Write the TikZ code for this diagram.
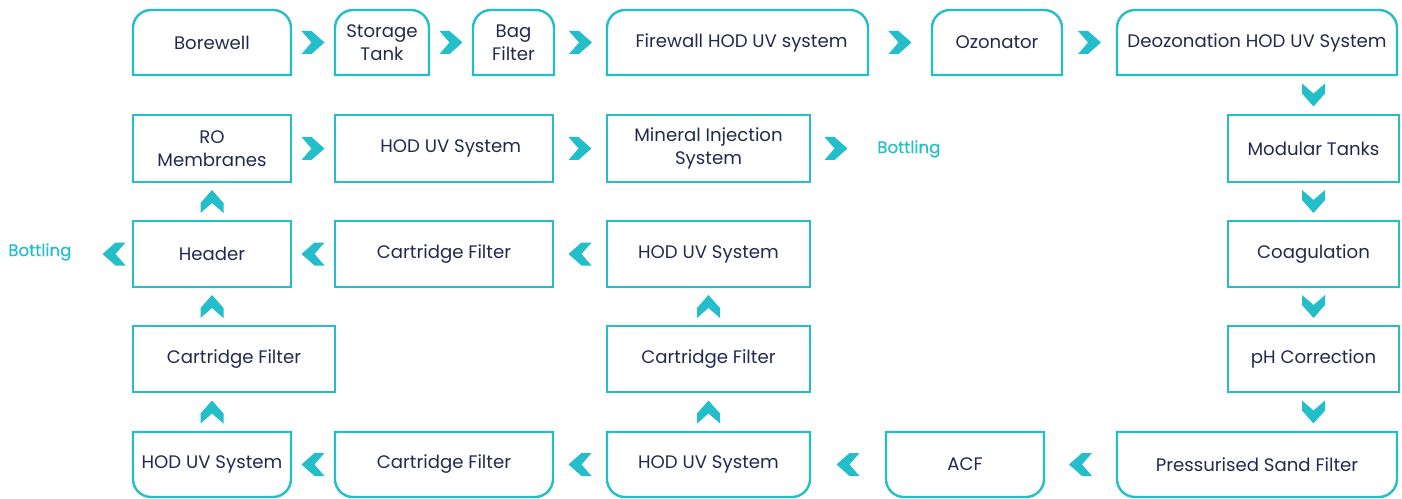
\documentclass[tikz,border=0pt]{standalone}
\usepackage{fontspec}
\setmainfont{Poppins}
\newfontfamily\btfont{Poppins}[FakeBold=0.6]
\usetikzlibrary{calc}
\definecolor{tealc}{RGB}{36,190,202}
\definecolor{navy}{RGB}{33,42,78}
\newlength\rr
\setlength\rr{13.5pt}
\tikzset{
  box/.style={inner sep=0pt, outer sep=0pt, align=center, text=navy,
    font=\fontsize{13.6}{17.5}\selectfont},
  frame/.style={draw=tealc, line width=1.8pt},
  chev/.pic={\fill[tealc] (-11.5,11.5)--(-1.5,11.5)--(11.5,0)--(-1.5,-11.5)--(-11.5,-11.5)--(-1.5,0)--cycle;},
  bottling/.style={text=tealc, font=\btfont\fontsize{12.5}{15}\selectfont, inner sep=0pt},
}
\newcommand\topframe[1]{%
  \draw[frame] (#1.south west) -- ([yshift=-\rr]#1.north west)
    arc[start angle=180,end angle=90,radius=\rr] -- ([xshift=-\rr]#1.north east)
    arc[start angle=90,end angle=0,radius=\rr] -- (#1.south east) -- cycle;}
\newcommand\botframe[1]{%
  \draw[frame] (#1.north west) -- ([yshift=\rr]#1.south west)
    arc[start angle=180,end angle=270,radius=\rr] -- ([xshift=-\rr]#1.south east)
    arc[start angle=270,end angle=360,radius=\rr] -- (#1.north east) -- cycle;}
\newcommand\sqframe[1]{\draw[frame] (#1.south west) rectangle (#1.north east);}
\begin{document}
\begin{tikzpicture}[x=0.75pt,y=0.75pt]
\useasboundingbox (0,0) rectangle (1402,-499);
% row 1
\node[box, minimum width=118.5pt, minimum height=48.75pt] (bw) at (212,-42.5) {Borewell};
\node[box, minimum width=70.5pt, minimum height=48.75pt] (st) at (382,-42.5) {Storage\\Tank};
\node[box, minimum width=60.75pt, minimum height=48.75pt] (bf) at (513.5,-42.5) {Bag\\Filter};
\node[box, minimum width=195.75pt, minimum height=48.75pt] (fw) at (737.5,-42.5) {\hspace*{6pt}Firewall HOD UV system};
\node[box, minimum width=97.5pt, minimum height=48.75pt] (oz) at (997,-42.5) {Ozonator};
\node[box, minimum width=210pt, minimum height=48.75pt] (dz) at (1257,-42.5) {Deozonation HOD UV System};
\foreach \n in {bw,st,bf,fw,oz,dz} {\topframe{\n}}
% row 2
\node[box, minimum width=118.5pt, minimum height=50.25pt] (ro) at (212,-148.5) {RO\\Membranes};
\node[box, minimum width=163.5pt, minimum height=50.25pt] (hu2) at (444,-148.5) {\hspace*{10pt}HOD UV System};
\node[box, minimum width=152.25pt, minimum height=50.25pt] (mi) at (708.5,-148.5) {Mineral Injection\\System};
\node[box, minimum width=128.25pt, minimum height=50.25pt] (mt) at (1313.5,-148.5) {Modular Tanks};
\node[bottling, anchor=west] (bt1) at (877,-149) {Bottling};
% row 3
\node[box, minimum width=118.5pt, minimum height=49.5pt] (hd) at (212,-254) {Header};
\node[box, minimum width=163.5pt, minimum height=49.5pt] (cf3) at (444,-254) {Cartridge Filter};
\node[box, minimum width=152.25pt, minimum height=49.5pt] (hu3) at (708.5,-254) {HOD UV System};
\node[box, minimum width=128.25pt, minimum height=49.5pt] (cg) at (1313.5,-254) {Coagulation};
\node[bottling, anchor=west] (bt2) at (8,-252) {Bottling};
% row 4
\node[box, minimum width=151.5pt, minimum height=49.5pt] (cf4a) at (234,-359) {Cartridge Filter};
\node[box, minimum width=152.25pt, minimum height=49.5pt] (cf4b) at (708.5,-359) {Cartridge Filter};
\node[box, minimum width=128.25pt, minimum height=49.5pt] (ph) at (1313.5,-359) {pH Correction};
\foreach \n in {ro,hu2,mi,mt,hd,cf3,hu3,cg,cf4a,cf4b,ph} {\sqframe{\n}}
% row 5
\node[box, minimum width=118.5pt, minimum height=48.75pt] (hu5a) at (212,-464.5) {HOD UV System};
\node[box, minimum width=163.5pt, minimum height=48.75pt] (cf5) at (444,-464.5) {Cartridge Filter};
\node[box, minimum width=152.25pt, minimum height=48.75pt] (hu5b) at (708.5,-464.5) {HOD UV System};
\node[box, minimum width=118.5pt, minimum height=48.75pt] (acf) at (965,-464.5) {ACF};
\node[box, minimum width=210pt, minimum height=48.75pt] (psf) at (1257,-464.5) {Pressurised Sand Filter};
\foreach \n in {hu5a,cf5,hu5b,acf,psf} {\botframe{\n}}
% chevrons row 1 (right)
\foreach \a/\b in {bw/st,st/bf,bf/fw,fw/oz,oz/dz}
  {\path ($(\a.east)!0.5!(\b.west)$) pic {chev};}
% down chevrons right column
\path ($(mt.north)!0.5!(mt.north|-dz.south)$) pic[rotate=-90] {chev};
\foreach \a/\b in {mt/cg,cg/ph}
  {\path ($(\a.south)!0.5!(\b.north)$) pic[rotate=-90] {chev};}
\path ($(ph.south)!0.5!(ph.south|-psf.north)$) pic[rotate=-90] {chev};
% row 5 (left)
\foreach \a/\b in {psf/acf,acf/hu5b,hu5b/cf5,cf5/hu5a}
  {\path ($(\a.west)!0.5!(\b.east)$) pic[rotate=180] {chev};}
% up chevrons
\path ($(hu5a.north)!0.5!(hu5a.north|-cf4a.south)$) pic[rotate=90] {chev};
\path ($(hd.south)!0.5!(hd.south|-cf4a.north)$) pic[rotate=90] {chev};
\path ($(hd.north)!0.5!(ro.south)$) pic[rotate=90] {chev};
\path ($(hu5b.north)!0.5!(cf4b.south)$) pic[rotate=90] {chev};
\path ($(cf4b.north)!0.5!(hu3.south)$) pic[rotate=90] {chev};
% row 3 (left)
\foreach \a/\b in {hu3/cf3,cf3/hd}
  {\path ($(\a.west)!0.5!(\b.east)$) pic[rotate=180] {chev};}
\path ($(hd.west)+(-19,0)$) pic[rotate=180] {chev};
% row 2 (right)
\foreach \a/\b in {ro/hu2,hu2/mi}
  {\path ($(\a.east)!0.5!(\b.west)$) pic {chev};}
\path ($(mi.east)+(26,0)$) pic {chev};
\end{tikzpicture}
\end{document}
